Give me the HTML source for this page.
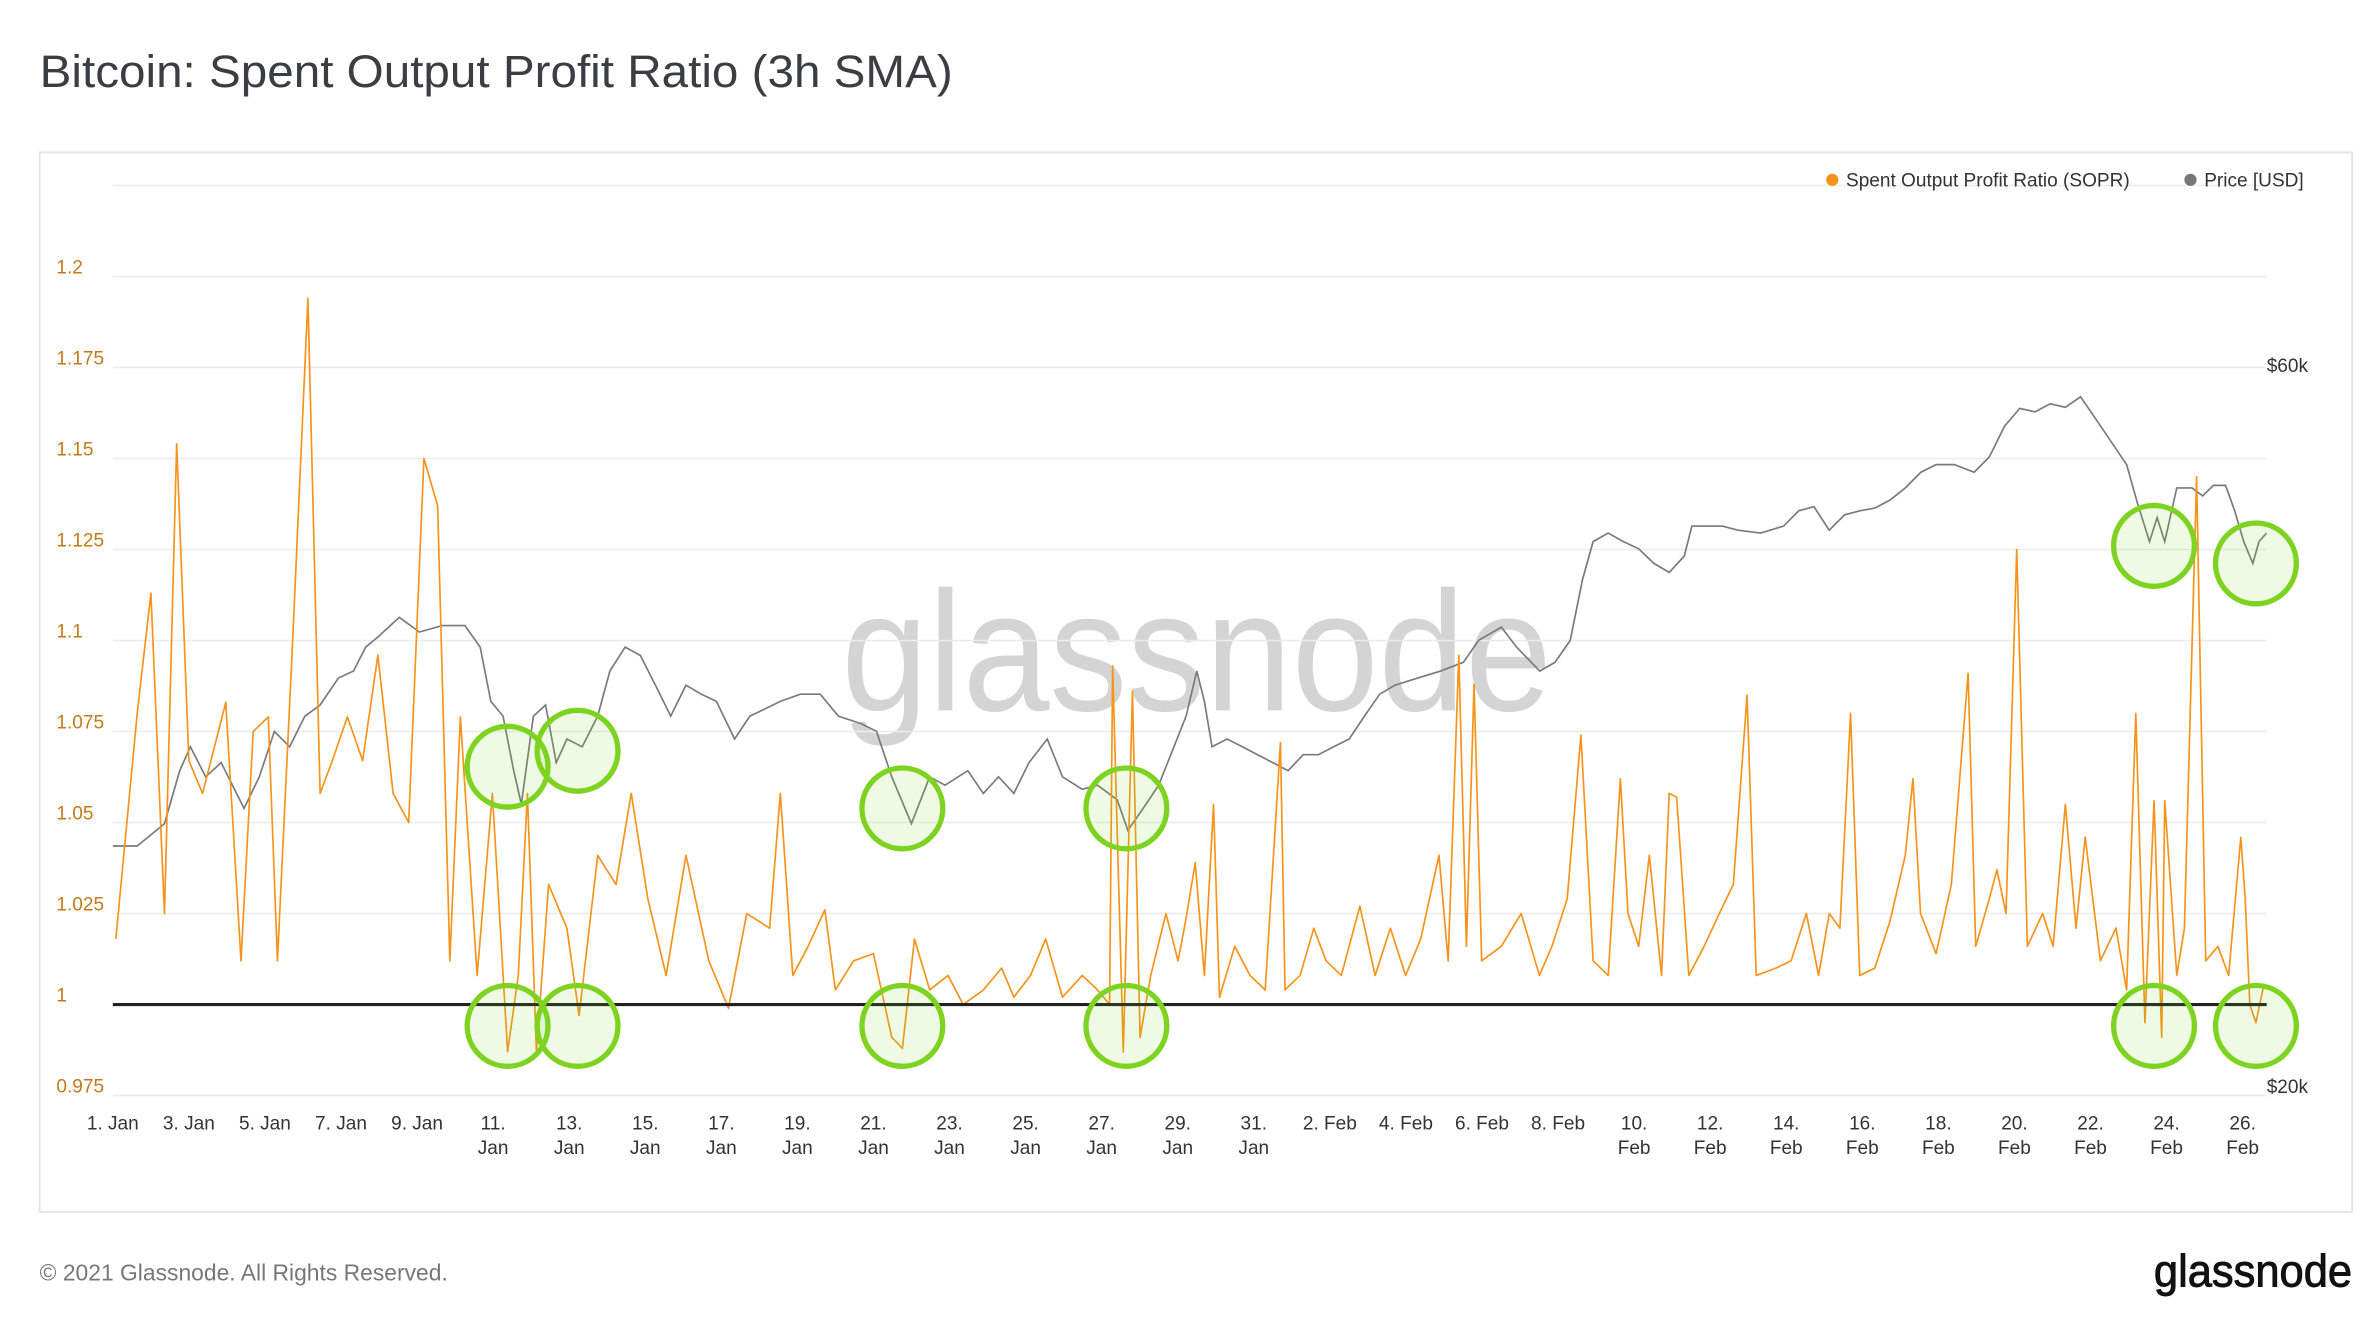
<!DOCTYPE html>
<html><head><meta charset="utf-8"><style>
html,body{margin:0;padding:0;background:#fff;}
svg{display:block;font-family:"Liberation Sans",sans-serif;}
</style></head><body>
<svg id="chart" width="2378" height="1330" viewBox="0 0 1560 872.5" xmlns="http://www.w3.org/2000/svg">
<rect x="0" y="0" width="1560" height="872.5" fill="#fff"/>
<text x="26" y="57" font-size="30" fill="#3a3d44" textLength="599" lengthAdjust="spacingAndGlyphs">Bitcoin: Spent Output Profit Ratio (3h SMA)</text>
<rect x="26" y="100" width="1517" height="695" fill="none" stroke="#e4e4e4" stroke-width="1.2"/>
<text x="552" y="466" font-size="112" fill="#d4d4d4" textLength="466" lengthAdjust="spacingAndGlyphs">glassnode</text>
<g id="grid"></g><g id="yticks"></g><g id="xticks"></g>
<g id="series"></g>
<g id="legend">
<circle cx="1202" cy="118" r="4" fill="#f7931a"/>
<text x="1211" y="122.5" font-size="12.5" fill="#333">Spent Output Profit Ratio (SOPR)</text>
<circle cx="1437" cy="118" r="4" fill="#777"/>
<text x="1446" y="122.5" font-size="12.5" fill="#333">Price [USD]</text>
</g>
<g id="annot"></g>
<text x="26" y="840" font-size="15" fill="#777">© 2021 Glassnode. All Rights Reserved.</text>
<text x="1413" y="844" font-size="30" fill="#111" stroke="#111" stroke-width="0.6" textLength="130" lengthAdjust="spacingAndGlyphs">glassnode</text>
</svg>
<script>
const soprDays=[0.08,0.64,1.00,1.36,1.68,2.00,2.36,2.97,3.37,3.69,4.09,4.33,4.73,5.13,5.45,5.77,6.17,6.57,6.97,7.37,7.78,8.18,8.54,8.86,9.14,9.58,9.98,10.38,10.66,10.90,11.14,11.46,11.94,12.26,12.75,13.23,13.63,14.07,14.55,15.07,15.67,16.19,16.67,17.27,17.55,17.88,18.28,18.72,19.00,19.48,20.00,20.48,20.76,21.08,21.48,21.96,22.36,22.89,23.37,23.69,24.13,24.53,24.97,25.49,25.89,26.21,26.29,26.57,26.81,27.01,27.29,27.69,28.01,28.21,28.46,28.70,28.94,29.10,29.50,29.90,30.30,30.70,30.82,31.22,31.58,31.90,32.30,32.79,33.19,33.59,33.99,34.39,34.87,35.11,35.39,35.59,35.79,35.99,36.51,37.03,37.51,37.84,38.24,38.60,38.92,39.32,39.64,39.84,40.12,40.40,40.72,40.92,41.12,41.44,41.84,42.24,42.61,42.97,43.21,43.73,44.13,44.53,44.85,45.13,45.41,45.69,45.93,46.33,46.73,47.13,47.33,47.53,47.94,48.34,48.78,48.98,49.34,49.54,49.78,50.06,50.34,50.74,51.02,51.34,51.62,51.86,52.26,52.67,52.95,53.19,53.43,53.67,53.87,53.95,54.27,54.47,54.79,55.03,55.35,55.63,55.95,56.07,56.19,56.35,56.55];
const soprValues=[1.018,1.080,1.113,1.025,1.154,1.067,1.058,1.083,1.012,1.075,1.079,1.012,1.100,1.194,1.058,1.067,1.079,1.067,1.096,1.058,1.050,1.150,1.137,1.012,1.079,1.008,1.058,0.987,1.008,1.058,0.987,1.033,1.021,0.997,1.041,1.033,1.058,1.029,1.008,1.041,1.012,0.999,1.025,1.021,1.058,1.008,1.016,1.026,1.004,1.012,1.014,0.991,0.988,1.018,1.004,1.008,1.000,1.004,1.010,1.002,1.008,1.018,1.002,1.008,1.004,1.000,1.093,0.987,1.086,0.991,1.008,1.025,1.012,1.023,1.039,1.008,1.055,1.002,1.016,1.008,1.004,1.072,1.004,1.008,1.021,1.012,1.008,1.027,1.008,1.021,1.008,1.018,1.041,1.012,1.096,1.016,1.088,1.012,1.016,1.025,1.008,1.016,1.029,1.074,1.012,1.008,1.062,1.025,1.016,1.041,1.008,1.058,1.057,1.008,1.016,1.025,1.033,1.085,1.008,1.010,1.012,1.025,1.008,1.025,1.021,1.080,1.008,1.010,1.023,1.041,1.062,1.025,1.014,1.033,1.091,1.016,1.029,1.037,1.025,1.125,1.016,1.025,1.016,1.055,1.021,1.046,1.012,1.021,1.004,1.080,0.995,1.056,0.991,1.056,1.008,1.021,1.145,1.012,1.016,1.008,1.046,1.029,1.000,0.995,1.005];
const priceDays=[0,0.64,1.36,1.76,2.04,2.44,2.85,3.45,3.85,4.25,4.65,5.05,5.45,5.93,6.33,6.65,6.97,7.53,8.06,8.66,9.26,9.66,9.94,10.26,10.54,10.74,11.06,11.38,11.66,11.94,12.34,12.75,13.07,13.47,13.87,14.27,14.67,15.07,15.47,15.87,16.35,16.75,17.15,17.55,18.08,18.60,19.08,19.68,20.08,20.48,21.00,21.48,21.88,22.48,22.89,23.29,23.69,24.09,24.57,24.97,25.49,25.89,26.41,26.69,27.09,27.50,27.90,28.22,28.50,28.70,28.90,29.30,29.70,30.10,30.50,30.90,31.30,31.70,32.10,32.51,32.91,33.31,33.71,34.31,34.91,35.51,35.91,36.51,36.91,37.52,37.92,38.32,38.64,38.92,39.32,39.72,40.12,40.52,40.92,41.32,41.52,41.92,42.32,42.73,43.33,43.93,44.33,44.73,45.13,45.53,45.93,46.33,46.73,47.13,47.54,47.94,48.42,48.94,49.34,49.74,50.14,50.54,50.94,51.34,51.74,52.14,52.55,52.95,53.23,53.55,53.75,53.95,54.27,54.67,54.95,55.23,55.55,55.79,56.03,56.27,56.43,56.63];
const priceValues=[28.8,28.8,29.8,32.3,33.5,32.0,32.7,30.5,32.0,34.3,33.5,35.1,35.7,37.2,37.6,39.0,39.6,40.8,39.9,40.3,40.3,39.0,35.9,35.1,32.3,30.7,35.1,35.7,32.7,33.9,33.5,35.1,37.6,39.0,38.5,36.8,35.1,36.8,36.3,35.9,33.9,35.1,35.5,35.9,36.3,36.3,35.1,34.7,34.3,32.0,29.8,32.0,31.6,32.3,31.2,32.0,31.2,32.7,33.9,32.0,31.4,31.6,30.9,29.5,30.5,31.6,33.5,35.1,37.6,35.9,33.5,33.9,33.5,33.1,32.7,32.3,33.1,33.1,33.5,33.9,35.1,36.3,36.8,37.2,37.6,38.1,39.4,40.2,39.0,37.6,38.1,39.4,43.2,45.8,46.4,45.8,45.3,44.3,43.7,44.8,46.9,46.9,46.9,46.6,46.4,46.9,48.0,48.3,46.6,47.7,48.0,48.2,48.8,49.7,50.9,51.5,51.5,50.9,52.1,54.6,56.1,55.8,56.5,56.2,57.1,55.2,53.3,51.5,48.6,45.8,47.5,45.8,49.7,49.7,49.1,49.9,49.9,48.0,45.8,44.3,45.8,46.4];
const yTickValues=[0.975,1,1.025,1.05,1.075,1.1,1.125,1.15,1.175,1.2,1.225];
const yTickLabels=["0.975","1","1.025","1.05","1.075","1.1","1.125","1.15","1.175","1.2",""];
const priceTickValues=[20,60];
const priceTickLabels=["$20k","$60k"];
const xTickDays=[0,2,4,6,8,10,12,14,16,18,20,22,24,26,28,30,32,34,36,38,40,42,44,46,48,50,52,54,56];
const xTickLine1=["1. Jan","3. Jan","5. Jan","7. Jan","9. Jan","11.","13.","15.","17.","19.","21.","23.","25.","27.","29.","31.","2. Feb","4. Feb","6. Feb","8. Feb","10.","12.","14.","16.","18.","20.","22.","24.","26."];
const xTickLine2=["","","","","","Jan","Jan","Jan","Jan","Jan","Jan","Jan","Jan","Jan","Jan","Jan","","","","","Feb","Feb","Feb","Feb","Feb","Feb","Feb","Feb","Feb"];
const circleDays=[10.38,12.22,20.76,26.65,53.67,56.35];
const circlePrices=[32.5,33.3,30.5,30.5,45.5,44.3];

const NS="http://www.w3.org/2000/svg";
const X0=74,X1=1487,DAY=24.95;
function xs(d){return X0+d*DAY;}
function ys(v){return 659-(v-1)*2388;}
function yp(p){return 712-Math.log(p/20)/Math.log(3)*473;}
function mk(tag,attrs,parent){const e=document.createElementNS(NS,tag);for(const k in attrs)e.setAttribute(k,attrs[k]);parent.appendChild(e);return e;}
const grid=document.getElementById('grid'),yt=document.getElementById('yticks'),xt=document.getElementById('xticks'),ser=document.getElementById('series'),ann=document.getElementById('annot');
yTickValues.forEach((v,i)=>{
  const l=mk('line',{x1:X0,x2:X1,y1:ys(v),y2:ys(v),stroke:'#ececec','stroke-width':1},grid);
  
  
  if(yTickLabels[i]){
    const t=mk('text',{x:37,y:ys(v)-2,'font-size':12.5,fill:'#c4791b'},yt);t.textContent=yTickLabels[i];
    
    
  }
});
priceTickValues.forEach((p,i)=>{
  const t=mk('text',{x:1487,y:yp(p)+5,'font-size':12.5,fill:'#333'},yt);t.textContent=priceTickLabels[i];
  
  
});
xTickDays.forEach((d,i)=>{
  const t=mk('text',{x:xs(d),y:741,'font-size':12.5,fill:'#333','text-anchor':'middle'},xt);t.textContent=xTickLine1[i];
  
  
  if(xTickLine2[i]){const t2=mk('text',{x:xs(d),y:757,'font-size':12.5,fill:'#333','text-anchor':'middle'},xt);t2.textContent=xTickLine2[i];
  
  }
});
const priceLine=mk('polyline',{points:priceDays.map((d,i)=>xs(d).toFixed(1)+','+yp(priceValues[i]).toFixed(1)).join(' '),fill:'none',stroke:'#7a7a7a','stroke-width':1.1},ser);


const soprLine=mk('polyline',{points:soprDays.map((d,i)=>xs(d).toFixed(1)+','+ys(soprValues[i]).toFixed(1)).join(' '),fill:'none',stroke:'#f7931a','stroke-width':1.1,'stroke-linejoin':'round'},ser);


const base=mk('line',{x1:X0,x2:X1,y1:ys(1),y2:ys(1),stroke:'#222','stroke-width':2},ser);


circleDays.forEach((d,i)=>{
  const c1=mk('circle',{cx:xs(d),cy:yp(circlePrices[i]),r:26.5,fill:'rgba(126,211,33,0.12)',stroke:'#7ed321','stroke-width':3.5},ann);
  
  
  const c2=mk('circle',{cx:xs(d),cy:673,r:26.5,fill:'rgba(126,211,33,0.12)',stroke:'#7ed321','stroke-width':3.5},ann);
  
  
});
</script>
</body></html>
